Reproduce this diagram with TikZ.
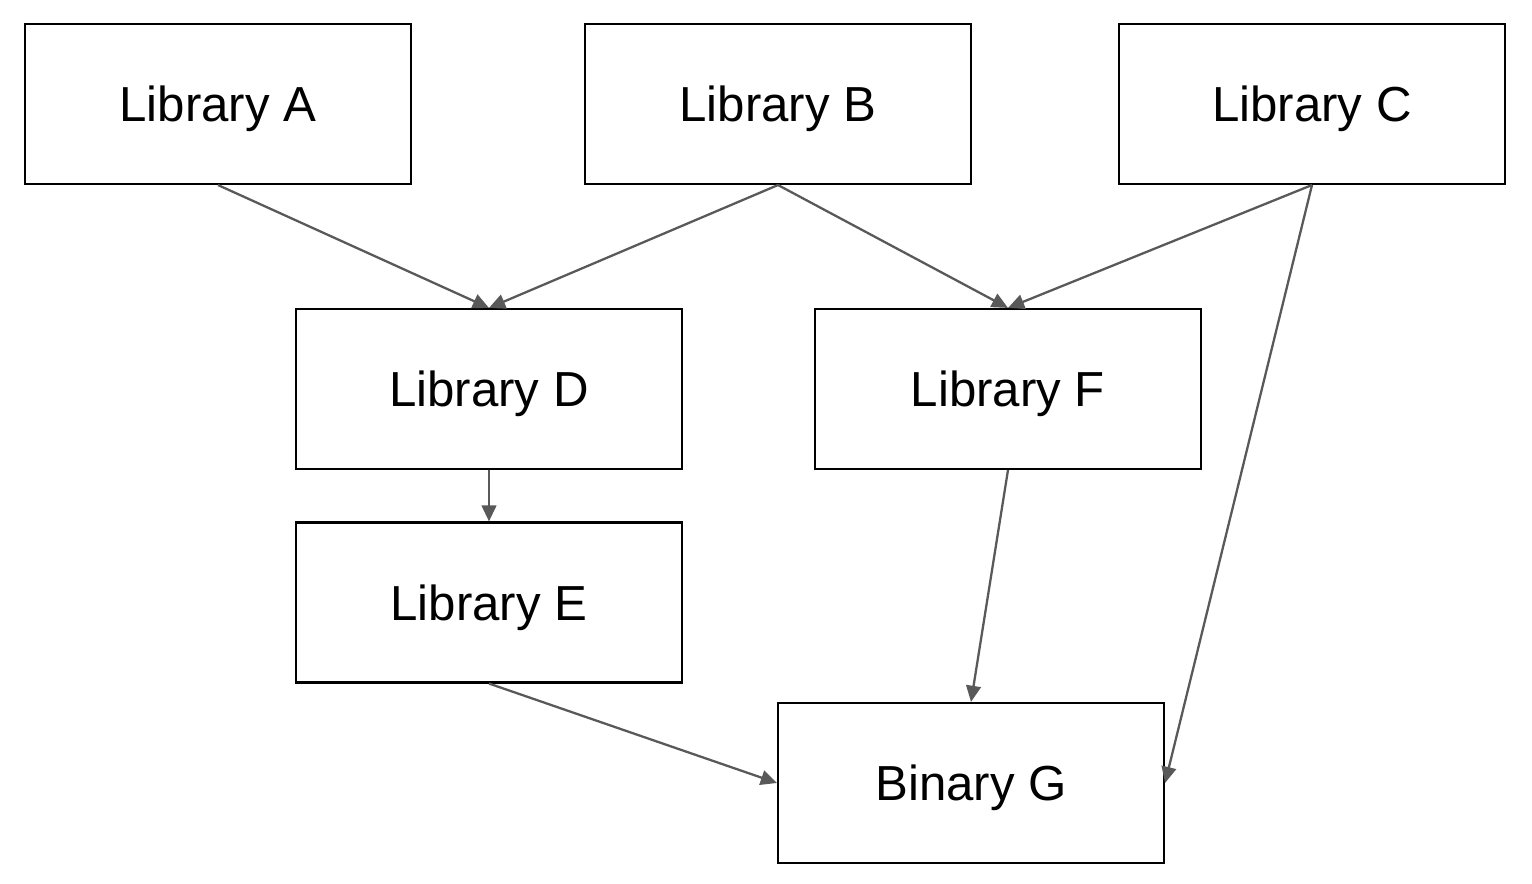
\documentclass[tikz,border=0pt]{standalone}
\usepackage{fontspec}
\setmainfont{Liberation Sans}
\usetikzlibrary{arrows.meta}
\definecolor{depgray}{HTML}{595959}

\begin{document}
\begin{tikzpicture}[lib/.style={draw,line width=0.6pt,minimum width=3.86cm,minimum height=1.6cm,inner sep=0pt,text depth=0pt,font=\fontsize{14}{17}\selectfont},
        dep/.style={-{Triangle[length=4.6pt,width=4.2pt]},line width=0.65pt,draw=depgray,fill=depgray}]
    \useasboundingbox (0,0) rectangle (15.32,8.84);

    \node[lib] (libA) at (2.18,7.80) {Library A};
    \node[lib] (libB) at (7.78,7.80) {Library B};
    \node[lib] (libC) at (13.12,7.80) {Library C};
    \node[lib] (libD) at (4.89,4.95) {Library D};
    \node[lib] (libF) at (10.08,4.95) {Library F};
    \node[lib] (libE) at (4.89,2.815) {Library E};
    \node[lib] (binG) at (9.71,1.01) {Binary G};

    \draw[dep] (libA.south) -- (libD.north);
    \draw[dep] (libB.south) -- (libD.north);
    \draw[dep] (libB.south) -- (libF.north);
    \draw[dep] (libC.south) -- (libF.north);
    \draw[dep] (libC.south) -- (binG.east);
    \draw[dep] (libD.south) -- (libE.north);
    \draw[dep] (libF.south) -- (binG.north);
    \draw[dep] (libE.south) -- (binG.west);
\end{tikzpicture}
\end{document}
